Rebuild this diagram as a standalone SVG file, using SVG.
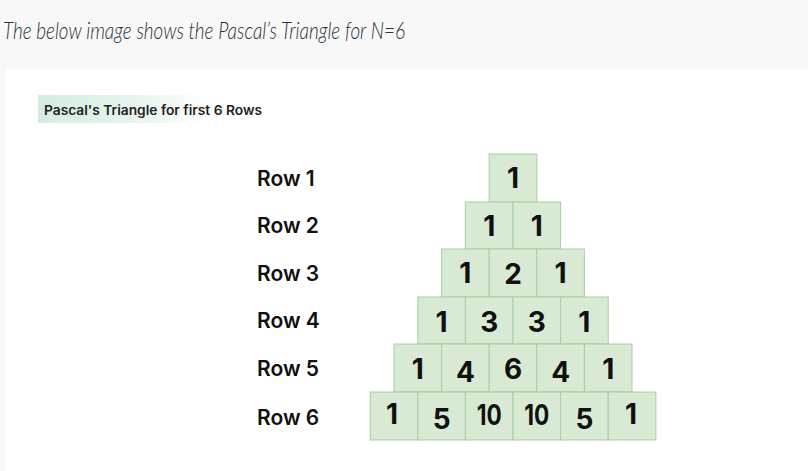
<svg xmlns="http://www.w3.org/2000/svg" width="808" height="471" viewBox="0 0 808 471">
<defs>
<linearGradient id="hl" x1="0" y1="0" x2="1" y2="0">
<stop offset="0" stop-color="#d4ede0"/>
<stop offset="0.6" stop-color="#e8f5ee"/>
<stop offset="1" stop-color="#ffffff"/>
</linearGradient>
<style>
.cell{fill:#d8ead3;stroke:#a6cf9f;stroke-width:1}
.num{font-family:Inter,"Noto Sans",sans-serif;font-weight:700;font-size:28px;fill:#111;text-anchor:middle}
.row{font-family:Inter,"Noto Sans",sans-serif;font-weight:600;font-size:21px;fill:#111}
</style>
</defs>
<rect width="808" height="471" fill="#f8f8f8"/>
<rect x="6" y="69" width="802" height="402" fill="#ffffff"/>
<text x="3" y="39" font-family="Lato,'Open Sans',sans-serif" font-style="italic" font-weight="300" font-size="23" fill="#273239" textLength="402" lengthAdjust="spacingAndGlyphs">The below image shows the Pascal’s Triangle for N=6</text>
<g id="caption">
<rect x="38" y="95" width="170" height="28" fill="url(#hl)"/>
<text x="44" y="115" font-family="Inter,'Noto Sans',sans-serif" font-weight="600" font-size="13" fill="#222" textLength="218" lengthAdjust="spacingAndGlyphs">Pascal's Triangle for first 6 Rows</text>
</g>
<g id="labels">
<text class="row" x="257" y="186">Row 1</text>
<text class="row" x="257" y="233">Row 2</text>
<text class="row" x="257" y="281">Row 3</text>
<text class="row" x="257" y="328">Row 4</text>
<text class="row" x="257" y="376">Row 5</text>
<text class="row" x="257" y="425">Row 6</text>
</g>
<g id="row1">
<rect class="cell" x="489.2" y="154" width="47.6" height="48"/><text class="num" x="513" y="188">1</text>
</g>
<g id="row2">
<rect class="cell" x="465.4" y="202" width="47.6" height="47"/><text class="num" x="489.2" y="236">1</text>
<rect class="cell" x="513" y="202" width="47.6" height="47"/><text class="num" x="536.8" y="236">1</text>
</g>
<g id="row3">
<rect class="cell" x="441.6" y="249" width="47.6" height="48"/><text class="num" x="465.4" y="283">1</text>
<rect class="cell" x="489.2" y="249" width="47.6" height="48"/><text class="num" x="513" y="284">2</text>
<rect class="cell" x="536.8" y="249" width="47.6" height="48"/><text class="num" x="560.6" y="283">1</text>
</g>
<g id="row4">
<rect class="cell" x="417.8" y="297" width="47.6" height="47"/><text class="num" x="441.6" y="332">1</text>
<rect class="cell" x="465.4" y="297" width="47.6" height="47"/><text class="num" x="489.2" y="332">3</text>
<rect class="cell" x="513" y="297" width="47.6" height="47"/><text class="num" x="536.8" y="332">3</text>
<rect class="cell" x="560.6" y="297" width="47.6" height="47"/><text class="num" x="584.4" y="332">1</text>
</g>
<g id="row5">
<rect class="cell" x="394" y="344" width="47.6" height="48"/><text class="num" x="417.8" y="379">1</text>
<rect class="cell" x="441.6" y="344" width="47.6" height="48"/><text class="num" x="465.4" y="382">4</text>
<rect class="cell" x="489.2" y="344" width="47.6" height="48"/><text class="num" x="513" y="379">6</text>
<rect class="cell" x="536.8" y="344" width="47.6" height="48"/><text class="num" x="560.6" y="382">4</text>
<rect class="cell" x="584.4" y="344" width="47.6" height="48"/><text class="num" x="608.2" y="379">1</text>
</g>
<g id="row6">
<rect class="cell" x="370.2" y="392" width="47.6" height="48"/><text class="num" x="392" y="424">1</text>
<rect class="cell" x="417.8" y="392" width="47.6" height="48"/><text class="num" x="441.6" y="429">5</text>
<rect class="cell" x="465.4" y="392" width="47.6" height="48"/><text class="num" x="489.2" y="425" textLength="25" lengthAdjust="spacingAndGlyphs">10</text>
<rect class="cell" x="513" y="392" width="47.6" height="48"/><text class="num" x="536.8" y="425" textLength="25" lengthAdjust="spacingAndGlyphs">10</text>
<rect class="cell" x="560.6" y="392" width="47.6" height="48"/><text class="num" x="584.4" y="429">5</text>
<rect class="cell" x="608.2" y="392" width="47.6" height="48"/><text class="num" x="631" y="424">1</text>
</g>
</svg>
